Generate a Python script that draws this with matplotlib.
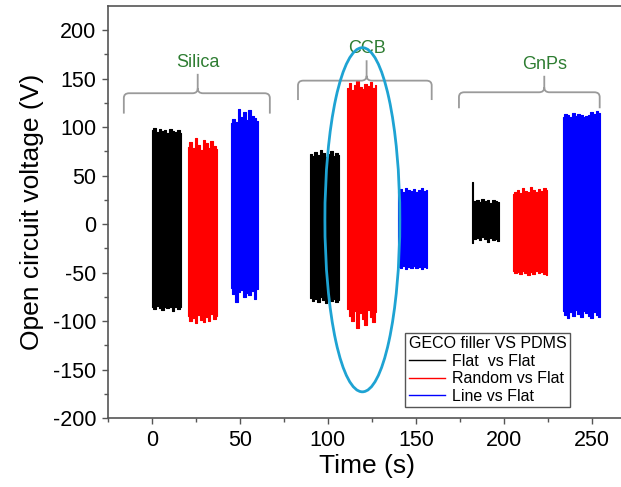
import numpy as np
import matplotlib
matplotlib.use('Agg')
import matplotlib.pyplot as plt
from matplotlib.patches import Ellipse, PathPatch
from matplotlib.path import Path
from matplotlib.lines import Line2D

plt.rcParams['font.family'] = ['Liberation Sans', 'DejaVu Sans']
plt.rcParams['axes.unicode_minus'] = False

# peak envelopes of each measurement burst (time in s, voltage in V)
silica_flat_t = [0, 1.5, 3, 4.5, 6, 7.5, 9, 10.5, 12, 13.5, 15, 16.5]
silica_flat_hi = [97, 99, 95, 98, 96, 97, 94, 98, 96, 95, 97, 94]
silica_flat_lo = [-86, -88, -84, -87, -89, -85, -87, -86, -90, -85, -88, -86]

silica_random_t = [20.5, 22, 23.5, 25, 26.5, 28, 29.5, 31, 32.5, 34, 35.5, 37]
silica_random_hi = [80, 85, 78, 89, 82, 76, 87, 84, 79, 86, 81, 77]
silica_random_lo = [-95, -100, -97, -102, -94, -99, -101, -96, -100, -93, -98, -95]

silica_line_t = [45, 46.5, 48, 49.5, 51, 52.5, 54, 55.5, 57, 58.5, 60]
silica_line_hi = [104, 108, 105, 119, 110, 116, 107, 118, 112, 109, 106]
silica_line_lo = [-66, -72, -80, -70, -68, -75, -71, -73, -69, -77, -67]

ccb_flat_t = [90, 91.5, 93, 94.5, 96, 97.5, 99, 100.5, 102, 103.5, 105, 106.5]
ccb_flat_hi = [72, 70, 74, 71, 76, 73, 69, 72, 75, 70, 73, 71]
ccb_flat_lo = [-76, -79, -77, -80, -75, -78, -81, -76, -79, -77, -80, -78]

ccb_random_t = [111, 112.5, 114, 115.5, 117, 118.5, 120, 121.5, 123, 124.5, 126, 127.5]
ccb_random_hi = [140, 146, 138, 143, 148, 141, 139, 145, 142, 147, 140, 144]
ccb_random_lo = [-88, -95, -100, -90, -107, -92, -98, -104, -89, -96, -101, -91]

ccb_line_t = [140, 141.5, 143, 144.5, 146, 147.5, 149, 150.5, 152, 153.5, 155, 156.5]
ccb_line_hi = [34, 36, 33, 37, 35, 34, 36, 33, 35, 37, 34, 35]
ccb_line_lo = [-44, -45, -43, -46, -44, -45, -43, -45, -44, -46, -44, -45]

gnps_flat_t = [182, 183.5, 185, 186.5, 188, 189.5, 191, 192.5, 194, 195.5, 197]
gnps_flat_hi = [43, 24, 25, 23, 26, 24, 25, 22, 25, 24, 23]
gnps_flat_lo = [-19, -15, -14, -16, -13, -15, -18, -14, -16, -15, -17]

gnps_random_t = [205, 206.5, 208, 209.5, 211, 212.5, 214, 215.5, 217, 218.5, 220, 221.5, 223, 224.5]
gnps_random_hi = [31, 33, 35, 32, 37, 34, 33, 38, 35, 33, 36, 34, 37, 35]
gnps_random_lo = [-48, -50, -49, -51, -48, -50, -52, -49, -51, -48, -50, -49, -51, -52]

gnps_line_t = [233.5, 235, 236.5, 238, 239.5, 241, 242.5, 244, 245.5, 247, 248.5, 250, 251.5, 253, 254.5]
gnps_line_hi = [110, 114, 113, 111, 115, 112, 114, 113, 110, 112, 113, 116, 114, 117, 115]
gnps_line_lo = [-90, -94, -97, -91, -95, -89, -93, -96, -90, -92, -95, -97, -91, -94, -96]

series_labels = ['Flat  vs Flat', 'Random vs Flat', 'Line vs Flat']
series_colors = ['black', '#ff0000', '#0000ff']

filler_names = ['Silica', 'CCB', 'GnPs']
# brace: left, right, centre, level, leg end, tip
brace_x0 = [-16, 83, 174.5]
brace_x1 = [67, 159, 254.5]
brace_xc = [26, 122, 223]
brace_y = [135, 148, 136]
brace_yend = [114, 128, 119.5]
brace_ytip = [155, 169, 153]

bursts = [
    (silica_flat_t, silica_flat_hi, silica_flat_lo, 0),
    (silica_random_t, silica_random_hi, silica_random_lo, 1),
    (silica_line_t, silica_line_hi, silica_line_lo, 2),
    (ccb_flat_t, ccb_flat_hi, ccb_flat_lo, 0),
    (ccb_random_t, ccb_random_hi, ccb_random_lo, 1),
    (ccb_line_t, ccb_line_hi, ccb_line_lo, 2),
    (gnps_flat_t, gnps_flat_hi, gnps_flat_lo, 0),
    (gnps_random_t, gnps_random_hi, gnps_random_lo, 1),
    (gnps_line_t, gnps_line_hi, gnps_line_lo, 2),
]

fig = plt.figure(figsize=(6.21, 4.87), dpi=100)
ax = fig.add_axes([0.1739, 0.1417, 0.8357, 0.846])

for t, hi, lo, k in bursts:
    ax.fill_between(t, lo, hi, step='mid', color=series_colors[k],
                    edgecolor=series_colors[k], linewidth=0.8)

# braces over each filler group
grey = '#9a9a9a'
rx, ry = 3, 5
for name, x0, x1, xc, y, ye, yt in zip(filler_names, brace_x0, brace_x1,
                                          brace_xc, brace_y, brace_yend, brace_ytip):
    verts = [(x0, ye), (x0, y - ry), (x0, y), (x0 + rx, y), (xc - rx, y),
             (xc, y), (xc, y + ry), (xc, yt), (xc, y + ry), (xc, y),
             (xc + rx, y), (x1 - rx, y), (x1, y), (x1, y - ry), (x1, ye)]
    codes = [Path.MOVETO, Path.LINETO, Path.CURVE3, Path.CURVE3, Path.LINETO,
             Path.CURVE3, Path.CURVE3, Path.LINETO, Path.MOVETO, Path.CURVE3,
             Path.CURVE3, Path.LINETO, Path.CURVE3, Path.CURVE3, Path.LINETO]
    ax.add_patch(PathPatch(Path(verts, codes), facecolor='none',
                           edgecolor=grey, lw=1.3))
    ax.text(xc, yt + 3, name, color='#2e7d32', fontsize=13,
            ha='center', va='bottom')

ax.add_patch(Ellipse((119.6, 4.5), 42.6, 355, fill=False,
                     edgecolor='#1ea3d3', lw=2, zorder=5))

ax.set_xlim(-25, 270)
ax.set_ylim(-200, 225)
ax.set_xticks(np.arange(0, 251, 50))
ax.set_xticks(np.arange(-25, 270, 25), minor=True)
ax.set_yticks(np.arange(-200, 201, 50))
ax.set_yticks(np.arange(-200, 225, 25), minor=True)
ax.tick_params(which='major', direction='out', length=4.5, width=1,
               labelsize=15.5, pad=4, color='#555555')
ax.tick_params(which='minor', direction='out', length=3, width=1, color='#555555')
ax.tick_params(top=False, right=False, which='both')
for s in ['left', 'bottom', 'top']:
    ax.spines[s].set_color('#555555')
    ax.spines[s].set_linewidth(1.2)
ax.spines['right'].set_visible(False)

ax.set_xlabel('Time (s)', fontsize=19, labelpad=2)
ax.set_ylabel('Open circuit voltage (V)', fontsize=19, labelpad=6)

handles = [Line2D([], [], color=c, lw=1) for c in series_colors]
leg = ax.legend(handles, series_labels, title='GECO filler VS PDMS',
                loc='lower left', bbox_to_anchor=(0.573, 0.027),
                fontsize=11.5, title_fontsize=11.5, frameon=True,
                fancybox=False, edgecolor='#555555', framealpha=1,
                handlelength=2.3, handletextpad=0.4, labelspacing=0.15,
                borderpad=0.2, borderaxespad=0, alignment='left')
leg.get_frame().set_linewidth(1)
leg.set_zorder(6)

fig.savefig('out.png', dpi=100)
